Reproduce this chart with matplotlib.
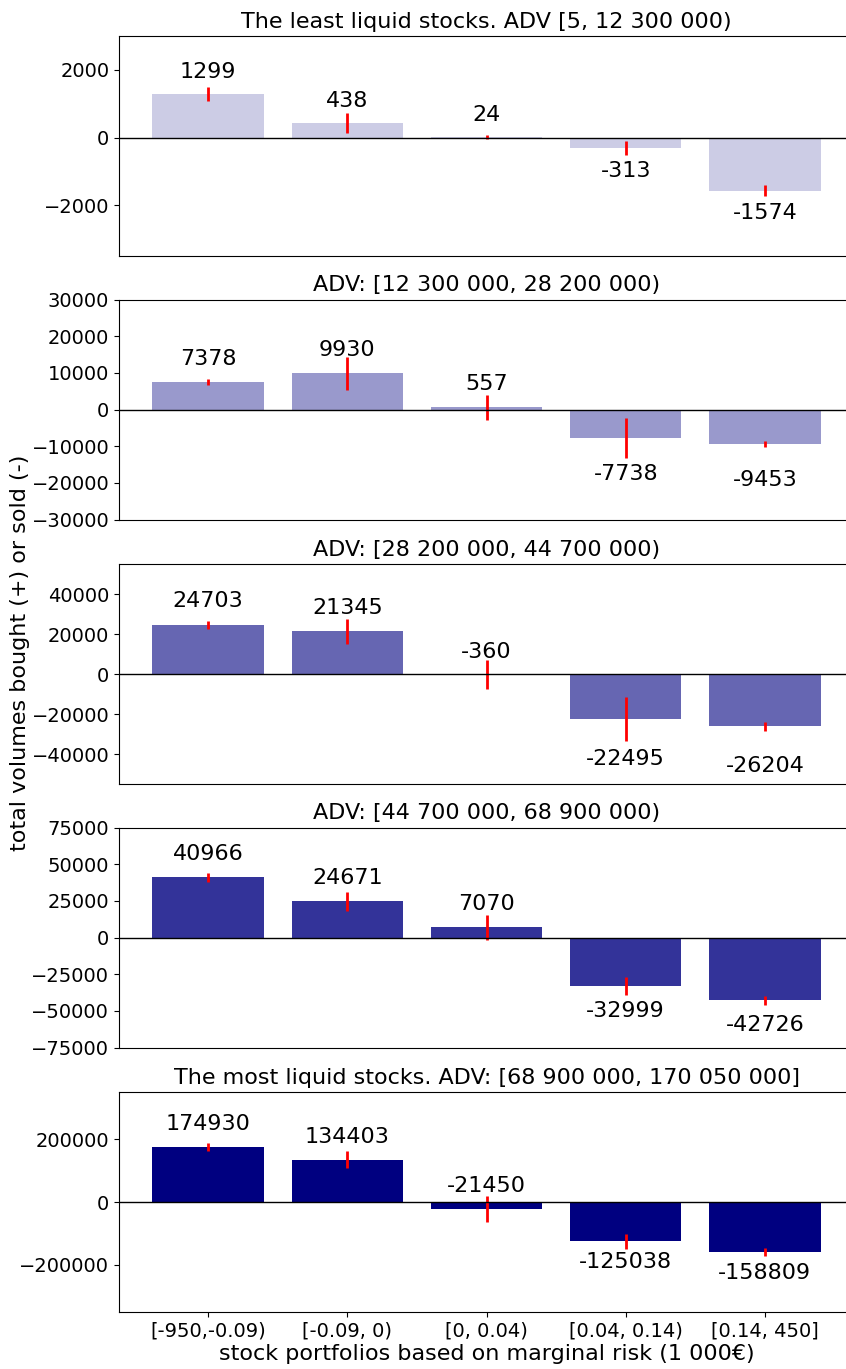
import numpy as np
import matplotlib
matplotlib.use("Agg")
import matplotlib.pyplot as plt

# marginal-risk buckets
tick_label = ["[-950,-0.09)", "[-0.09, 0)", "[0, 0.04)", "[0.04, 0.14)", "[0.14, 450]"]

titles = ["The least liquid stocks. ADV [5, 12 300 000)",
          "ADV: [12 300 000, 28 200 000)",
          "ADV: [28 200 000, 44 700 000)",
          "ADV: [44 700 000, 68 900 000)",
          "The most liquid stocks. ADV: [68 900 000, 170 050 000]"]

# mean traded volume per bucket and its spread
vol_q1 = [1299, 438, 24, -313, -1574]
err_q1 = [206, 290, 60, 215, 160]
vol_q2 = [7378, 9930, 557, -7738, -9453]
err_q2 = [820, 4500, 3400, 5500, 900]
vol_q3 = [24703, 21345, -360, -22495, -26204]
err_q3 = [2000, 6250, 7250, 10800, 2100]
vol_q4 = [40966, 24671, 7070, -32999, -42726]
err_q4 = [3300, 6500, 8500, 5900, 3100]
vol_q5 = [174930, 134403, -21450, -125038, -158809]
err_q5 = [13300, 27600, 41000, 24500, 11700]

volumes = [vol_q1, vol_q2, vol_q3, vol_q4, vol_q5]
errors = [err_q1, err_q2, err_q3, err_q4, err_q5]

ylims = [(-3500, 3000), (-30000, 30000), (-55000, 55000), (-75000, 75000), (-350000, 350000)]
yticks = [[-2000, 0, 2000],
          np.arange(-30000, 30001, 10000),
          np.arange(-40000, 40001, 20000),
          np.arange(-75000, 75001, 25000),
          [-200000, 0, 200000]]
alphas = [0.2, 0.4, 0.6, 0.8, 1.0]
neg_pad = [0.19, 0.33, 0.36, 0.23, 0.19]

W, H = 846, 1369
fig = plt.figure(figsize=(W / 100, H / 100), dpi=100)

tops = [36, 299.5, 564, 827.5, 1092]
ax_h = 220
inds = np.arange(len(tick_label))

for k in range(5):
    ax = fig.add_axes([119 / W, 1 - (tops[k] + ax_h) / H, 735 / W, ax_h / H])
    vals = np.array(volumes[k])
    errs = np.array(errors[k])
    ax.bar(inds, vals, 0.8, color="navy", alpha=alphas[k])
    ax.errorbar(inds, vals, yerr=errs, fmt="none", ecolor="red", elinewidth=2, capsize=0)
    ax.axhline(0, color="black", linewidth=1)
    ax.set_ylim(*ylims[k])
    ax.set_yticks(yticks[k])
    ax.set_xlim(-0.64, 4.64)
    lo, hi = ylims[k]
    for i in inds:
        v = vals[i]
        if v + errs[i] > 0:
            y = v + 0.21 * hi
        else:
            y = v + neg_pad[k] * lo
        ax.text(i, y, str(int(v)), ha="center", va="center", fontsize=16)
    ax.set_title(titles[k], fontsize=16)
    ax.tick_params(axis="y", labelsize=14)
    if k < 4:
        ax.tick_params(axis="x", bottom=False, labelbottom=False)
    else:
        ax.set_xticks(inds)
        ax.set_xticklabels(tick_label, fontsize=14)
        ax.set_xlabel("stock portfolios based on marginal risk (1 000€)", fontsize=16, labelpad=2)

fig.text(20 / W, 1 - 653 / H, "total volumes bought (+) or sold (-)",
         rotation=90, ha="center", va="center", fontsize=16)

plt.savefig("out.png", dpi=100)
